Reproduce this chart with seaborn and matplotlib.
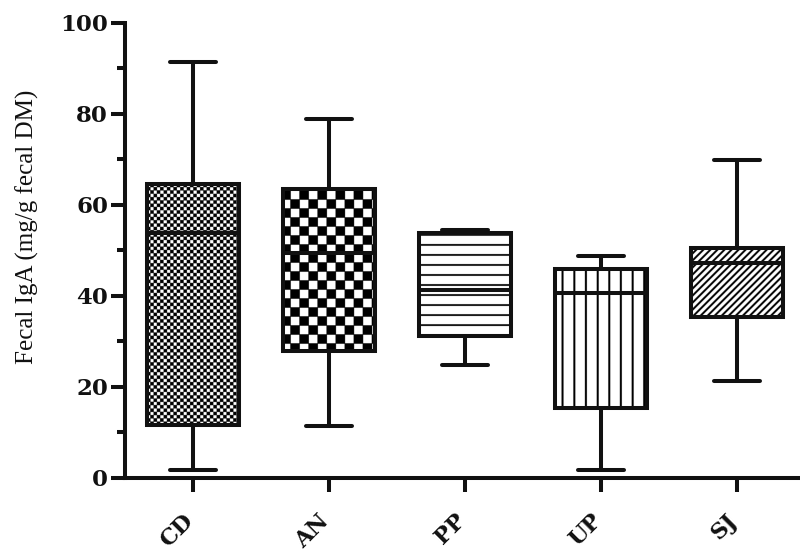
import numpy as np
import pandas as pd
import matplotlib
matplotlib.use("Agg")
import matplotlib.pyplot as plt
from matplotlib.ticker import MultipleLocator
from matplotlib.transforms import ScaledTranslation
import seaborn as sns

# ---- data (five-number summaries: min, Q1, median, Q3, max)
groups = ["CD", "AN", "PP", "UP", "SJ"]
cd_values = [1.8, 11.7, 53.8, 64.6, 91.4]
an_values = [11.4, 27.8, 49.4, 63.6, 79.0]
pp_values = [24.8, 31.2, 41.3, 53.8, 54.4]
up_values = [1.8, 15.4, 40.7, 45.9, 48.8]
sj_values = [21.3, 35.4, 47.3, 50.5, 69.9]
y_ticks = [0, 20, 40, 60, 80, 100]
y_label = "Fecal IgA (mg/g fecal DM)"

df = pd.DataFrame({
    "group": np.repeat(groups, 5),
    "value": np.concatenate([cd_values, an_values, pp_values, up_values, sj_values]),
})

sns.set_style("ticks")
plt.rcParams["font.family"] = ["DejaVu Serif"]

LW = 2.9
fig = plt.figure(figsize=(8, 5.51), dpi=100)
ax = fig.add_axes([0.156, 0.1325, 0.8415, 0.8258])

sns.boxplot(data=df, x="group", y="value", order=groups, whis=(0, 100),
            width=0.68, color="white", linecolor="#111111", linewidth=LW,
            showfliers=False, ax=ax)

ax.set_xlim(-0.5, 4.45)
ax.set_ylim(0, 100)
ax.set_yticks(y_ticks)
ax.yaxis.set_minor_locator(MultipleLocator(10))
sns.despine(ax=ax)
for s in ("left", "bottom"):
    ax.spines[s].set_linewidth(LW)
    ax.spines[s].set_color("#111111")
ax.tick_params(axis="y", which="major", direction="out", length=10, width=LW,
               color="#111111", labelsize=16.5, pad=2)
ax.tick_params(axis="y", which="minor", direction="out", length=5.5, width=LW, color="#111111")
ax.tick_params(axis="x", which="major", direction="out", length=10, width=LW,
               color="#111111", labelsize=16, pad=13)
for lab in ax.get_yticklabels():
    lab.set_fontweight("bold")
    lab.set_color("#111111")
ax.set_xticks(range(len(groups)))
ax.set_xticklabels(groups, rotation=45, ha="right", va="top", fontweight="bold",
                   fontsize=16, color="#111111")
shift = ScaledTranslation(0.05, 0, fig.dpi_scale_trans)
for lab in ax.get_xticklabels():
    lab.set_transform(lab.get_transform() + shift)
ax.set_xlabel("")
ax.set_ylabel(y_label, fontsize=18, family=["Liberation Serif"], color="#111111")
ax.yaxis.set_label_coords(-0.127, 0.552)

# ---- fill patterns clipped to each box
def checker(X, Y, c, e):
    fx = X % c
    fy = Y % c
    parity = (np.floor(X / c) + np.floor(Y / c)) % 2
    near_edge = np.minimum.reduce([fx, c - fx, fy, c - fy]) < e
    return ((parity == 1) | near_edge).astype(float)

def pattern(kind, X, Y):
    if kind == "fine_checker":
        return checker(X, Y, 3.3, 0.1)
    if kind == "coarse_checker":
        return checker(X + 1.5, Y + 1.5, 9.0, 0.35)
    if kind == "hlines":
        s = 10.0
        return ((Y % s) < 1.8).astype(float)
    if kind == "vlines":
        s = 11.6
        return (((X + 5) % s) < 2.0).astype(float)
    if kind == "diag":
        s = 7.0
        return (((X - Y) % s) < 2.7).astype(float)
    return np.zeros_like(X)

kinds = ["fine_checker", "coarse_checker", "hlines", "vlines", "diag"]
fig.canvas.draw()
inv = ax.transData.inverted()
for patch, kind in zip(list(ax.patches), kinds):
    verts = patch.get_transform().transform(patch.get_path().vertices)
    x0, y0 = verts.min(0)
    x1, y1 = verts.max(0)
    ss = 4
    nx = int(round((x1 - x0) * ss))
    ny = int(round((y1 - y0) * ss))
    xs = (np.arange(nx) + 0.5) / ss
    ys = (np.arange(ny) + 0.5) / ss
    X, Y = np.meshgrid(xs, ys)
    img = pattern(kind, X, Y)
    (dx0, dy0), (dx1, dy1) = inv.transform([[x0, y0], [x1, y1]])
    im = ax.imshow(img, extent=(dx0, dx1, dy0, dy1), origin="lower", cmap="gray_r",
                   vmin=0, vmax=1, interpolation="antialiased", aspect="auto",
                   zorder=patch.get_zorder() - 0.05)
    im.set_clip_path(patch)
    patch.set_facecolor("none")

ax.set_xlim(-0.5, 4.45)
ax.set_ylim(0, 100)

fig.savefig("out.png", dpi=100)
